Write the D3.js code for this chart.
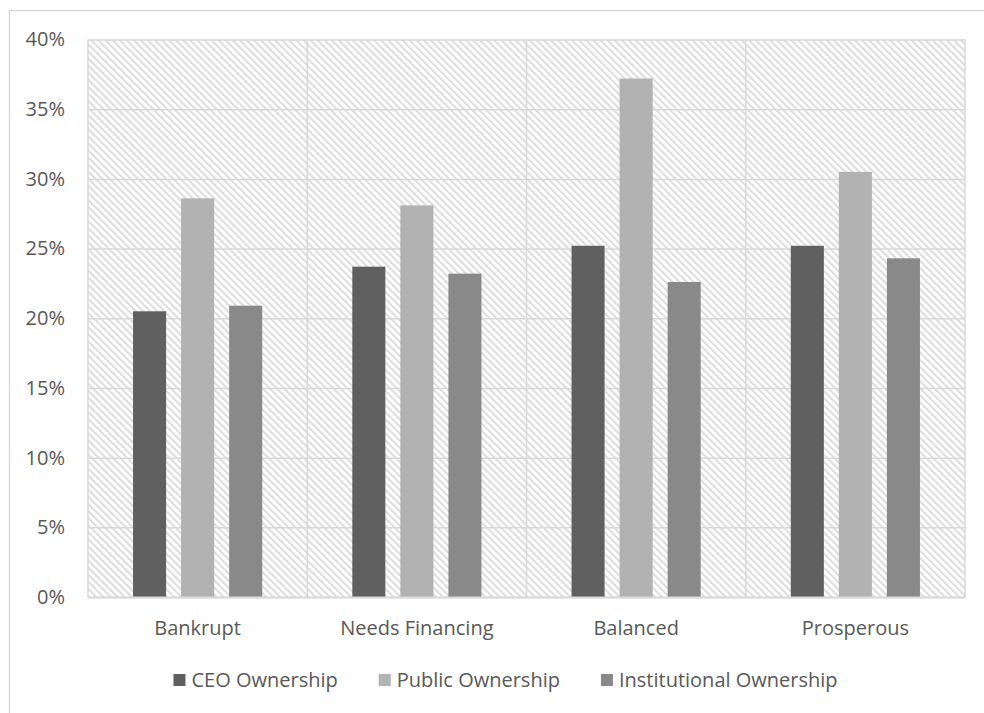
<!DOCTYPE html>
<html>
<head>
<meta charset="utf-8">
<script src="https://cdn.jsdelivr.net/npm/d3@7"></script>
<style>
  html, body { margin: 0; padding: 0; background: #fff; }
  svg { display: block; }
  text { font-family: "Open Sans", "Noto Sans", sans-serif; fill: #595959; }
</style>
</head>
<body>
<svg id="chart" width="984" height="713"></svg>
<script>
// Ownership share by company financial state
const categories = ["Bankrupt", "Needs Financing", "Balanced", "Prosperous"];
const seriesNames = ["CEO Ownership", "Public Ownership", "Institutional Ownership"];
const ceoOwnership = [0.205, 0.237, 0.252, 0.252];
const publicOwnership = [0.286, 0.281, 0.372, 0.305];
const institutionalOwnership = [0.209, 0.232, 0.226, 0.243];
const seriesColors = ["#606060", "#b2b2b2", "#898989"];
const yTicks = [0, 0.05, 0.10, 0.15, 0.20, 0.25, 0.30, 0.35, 0.40];

const seriesValues = [ceoOwnership, publicOwnership, institutionalOwnership];
const rows = categories.map((c, i) => ({
  category: c,
  values: seriesNames.map((s, j) => ({ series: s, value: seriesValues[j][i], color: seriesColors[j] }))
}));

const svg = d3.select("#chart");
const plot = { left: 88, right: 965, top: 39.5, bottom: 597 };
const fontSize = 20;

// chart frame
svg.append("rect")
  .attr("x", 9.5).attr("y", 10.5)
  .attr("width", 1000).attr("height", 1000)
  .attr("fill", "#fff").attr("stroke", "#d9d9d9").attr("stroke-width", 1.5);

// diagonal hatch used for the plot background
const defs = svg.append("defs");
const pat = defs.append("pattern")
  .attr("id", "hatch")
  .attr("patternUnits", "userSpaceOnUse")
  .attr("width", 5).attr("height", 5)
  .attr("patternTransform", "rotate(-45)");
pat.append("rect").attr("width", 5).attr("height", 5).attr("fill", "#ffffff");
pat.append("rect").attr("x", 0).attr("y", 0).attr("width", 2.2).attr("height", 5).attr("fill", "#dedede");

const x0 = d3.scaleBand().domain(categories).range([plot.left, plot.right]).padding(0);
const x1 = d3.scaleBand().domain(seriesNames).range([0, x0.bandwidth()])
  .paddingInner(0.3125).paddingOuter(0.9375);
const y = d3.scaleLinear().domain([0, 0.40]).range([plot.bottom, plot.top]);

svg.append("rect")
  .attr("x", plot.left).attr("y", plot.top)
  .attr("width", plot.right - plot.left).attr("height", plot.bottom - plot.top)
  .attr("fill", "url(#hatch)");

// horizontal gridlines and y labels
const yAxis = d3.axisLeft(y).tickValues(yTicks).tickFormat(d3.format(".0%"))
  .tickSize(-(plot.right - plot.left)).tickPadding(23);
const gy = svg.append("g").attr("transform", `translate(${plot.left},0)`).call(yAxis);
gy.select(".domain").remove();
gy.selectAll(".tick line").attr("stroke", "#d9d9d9").attr("stroke-width", 1.5);
gy.selectAll(".tick text")
  .attr("font-size", fontSize).attr("fill", "#595959")
  .style("font-family", "'Open Sans', sans-serif");

// vertical category separators
const edges = categories.map(c => x0(c)).concat([plot.right]);
svg.append("g").selectAll("line").data(edges).join("line")
  .attr("x1", d => d).attr("x2", d => d)
  .attr("y1", plot.top).attr("y2", plot.bottom)
  .attr("stroke", "#d9d9d9").attr("stroke-width", 1.5);

// bars
const groups = svg.append("g").selectAll("g").data(rows).join("g")
  .attr("transform", d => `translate(${x0(d.category)},0)`);
groups.selectAll("rect").data(d => d.values).join("rect")
  .attr("x", d => x1(d.series))
  .attr("width", x1.bandwidth())
  .attr("y", d => y(d.value))
  .attr("height", d => y(0) - y(d.value))
  .attr("fill", d => d.color);

// category axis
const xAxis = d3.axisBottom(x0).tickSize(0).tickPadding(24);
const gx = svg.append("g").attr("transform", `translate(0,${plot.bottom})`).call(xAxis);
gx.select(".domain").attr("stroke", "#d9d9d9").attr("stroke-width", 2);
gx.selectAll(".tick text")
  .attr("font-size", fontSize).attr("fill", "#595959")
  .style("font-family", "'Open Sans', sans-serif");

// legend
const legend = svg.append("g");
const items = legend.selectAll("g").data(seriesNames).join("g");
items.append("rect").attr("width", 12).attr("height", 12).attr("y", -12.5)
  .attr("fill", (d, i) => seriesColors[i]);
items.append("text").attr("x", 18).attr("y", 0)
  .attr("font-size", fontSize).text(d => d);
let cursor = 0;
items.each(function () {
  const g = d3.select(this);
  g.attr("transform", `translate(${cursor},686.5)`);
  cursor += this.getBBox().width + 41;
});
const legendWidth = cursor - 41;
legend.attr("transform", `translate(${505.5 - legendWidth / 2},0)`);
</script>
</body>
</html>
